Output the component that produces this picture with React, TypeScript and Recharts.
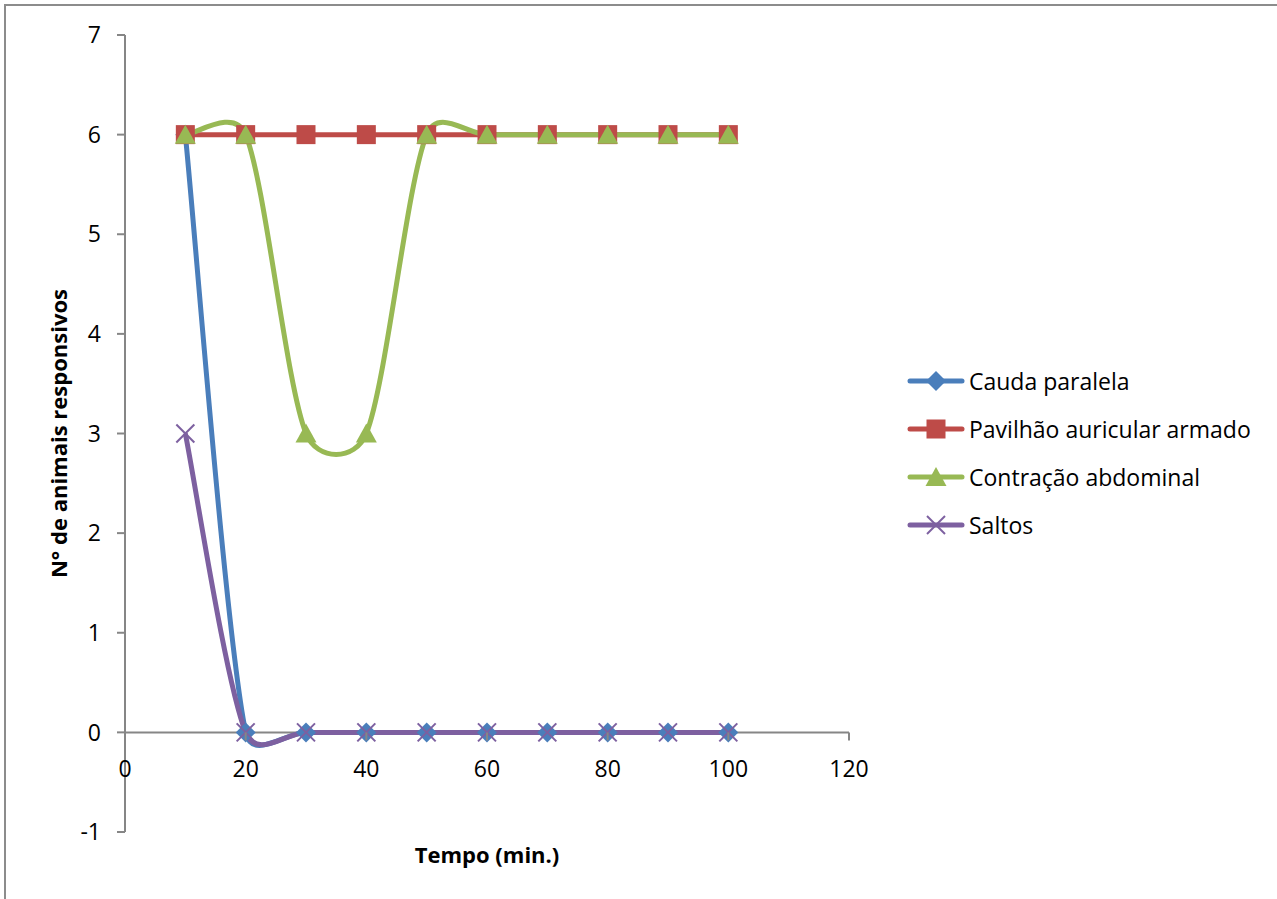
import React from 'react';
import { LineChart, Line, XAxis, YAxis, ReferenceLine } from 'recharts';

// Time points (min.) and number of responsive animals per sign
const tempo = [10, 20, 30, 40, 50, 60, 70, 80, 90, 100];
const caudaParalela = [6, 0, 0, 0, 0, 0, 0, 0, 0, 0];
const pavilhaoAuricular = [6, 6, 6, 6, 6, 6, 6, 6, 6, 6];
const contracaoAbdominal = [6, 6, 3, 3, 6, 6, 6, 6, 6, 6];
const saltos = [3, 0, 0, 0, 0, 0, 0, 0, 0, 0];

const xTicks = [0, 20, 40, 60, 80, 100, 120];
const yTicks = [-1, 0, 1, 2, 3, 4, 5, 6, 7];

const W = 1277;
const H = 899;
const X_AXIS_H = 30;
const MARGIN = { top: 35, right: 428, bottom: 67 - X_AXIS_H, left: 0 };
const Y_MIN = -1;
const Y_MAX = 7;
const PLOT_H = H - MARGIN.top - MARGIN.bottom - X_AXIS_H;
// pixel row of the value 0, where the horizontal axis crosses
const ZERO_Y = MARGIN.top + (PLOT_H * (Y_MAX - 0)) / (Y_MAX - Y_MIN);

const FONT = '"Open Sans", sans-serif';
const AXIS = '#868686';

const rows = tempo.map((t, i) => ({
  tempo: t,
  cauda: caudaParalela[i],
  pavilhao: pavilhaoAuricular[i],
  contracao: contracaoAbdominal[i],
  saltos: saltos[i],
}));

// Smoothed line in the spreadsheet style: cubic Bezier segments whose
// control points follow the neighbours, capped to half the segment length.
function excelSmooth(context: any) {
  let pts: number[][] = [];
  const ctrl = (p: number[], a: number[], b: number[], seg: number, sign: number) => {
    const dx = b[0] - a[0];
    const dy = b[1] - a[1];
    const len = Math.hypot(dx, dy);
    if (!len) return p;
    const d = Math.min(len / 6, seg / 2);
    return [p[0] + (sign * dx * d) / len, p[1] + (sign * dy * d) / len];
  };
  return {
    areaStart() {},
    areaEnd() {},
    lineStart() {
      pts = [];
    },
    point(x: number, y: number) {
      pts.push([+x, +y]);
    },
    lineEnd() {
      const n = pts.length;
      if (!n) return;
      context.moveTo(pts[0][0], pts[0][1]);
      for (let i = 0; i < n - 1; i++) {
        const p0 = pts[Math.max(i - 1, 0)];
        const p1 = pts[i];
        const p2 = pts[i + 1];
        const p3 = pts[Math.min(i + 2, n - 1)];
        const seg = Math.hypot(p2[0] - p1[0], p2[1] - p1[1]);
        const c1 = ctrl(p1, p0, p2, seg, 1);
        const c2 = ctrl(p2, p1, p3, seg, -1);
        context.bezierCurveTo(c1[0], c1[1], c2[0], c2[1], p2[0], p2[1]);
      }
    },
  };
}

type MarkerKind = 'diamond' | 'square' | 'triangle' | 'cross';

const Marker = ({ kind, cx, cy, color }: { kind: MarkerKind; cx: number; cy: number; color: string }) => {
  if (kind === 'diamond') {
    return <polygon points={`${cx},${cy - 10} ${cx + 10},${cy} ${cx},${cy + 10} ${cx - 10},${cy}`} fill={color} />;
  }
  if (kind === 'square') {
    return <rect x={cx - 9.5} y={cy - 9.5} width={19} height={19} fill={color} />;
  }
  if (kind === 'triangle') {
    return <polygon points={`${cx},${cy - 10} ${cx + 10.5},${cy + 9} ${cx - 10.5},${cy + 9}`} fill={color} />;
  }
  return (
    <g stroke={color} strokeWidth={2}>
      <line x1={cx - 9} y1={cy - 9} x2={cx + 9} y2={cy + 9} />
      <line x1={cx - 9} y1={cy + 9} x2={cx + 9} y2={cy - 9} />
    </g>
  );
};

const series = [
  { key: 'cauda', name: 'Cauda paralela', color: '#4A7EBB', marker: 'diamond' as MarkerKind },
  { key: 'pavilhao', name: 'Pavilhão auricular armado', color: '#BE4B48', marker: 'square' as MarkerKind },
  { key: 'contracao', name: 'Contração abdominal', color: '#98B954', marker: 'triangle' as MarkerKind },
  { key: 'saltos', name: 'Saltos', color: '#7D60A0', marker: 'cross' as MarkerKind },
];

// x tick drawn on the zero line instead of the bottom of the plot
const XTick = (props: any) => {
  const { x, payload } = props;
  return (
    <g>
      <line x1={x} y1={ZERO_Y} x2={x} y2={ZERO_Y + 8} stroke={AXIS} strokeWidth={2} />
      <text x={x} y={ZERO_Y + 36} textAnchor="middle" dominantBaseline="central" fontSize={23} fontFamily={FONT} fill="#000">
        {payload.value}
      </text>
    </g>
  );
};

const LegendBox = () => (
  <svg width={380} height={200} style={{ position: 'absolute', left: 900, top: 355 }}>
    {series.map((s, i) => {
      const cy = 26 + i * 48;
      return (
        <g key={s.key}>
          <line x1={10} y1={cy} x2={62} y2={cy} stroke={s.color} strokeWidth={5} strokeLinecap="round" />
          <Marker kind={s.marker} cx={36} cy={cy} color={s.color} />
          <text x={69} y={cy} dominantBaseline="central" fontSize={23} fontFamily={FONT} fill="#000">
            {s.name}
          </text>
        </g>
      );
    })}
  </svg>
);

export default function App() {
  return (
    <div style={{ position: 'absolute', left: 0, top: 0, width: W, height: H, overflow: 'hidden', background: '#fff' }}>
      <div
        style={{
          position: 'absolute',
          left: 4,
          top: 4,
          width: W + 20,
          height: H + 20,
          borderTop: '2px solid #8c8c8c',
          borderLeft: '2px solid #8c8c8c',
        }}
      />
      <div style={{ position: 'absolute', left: 0, top: 0 }}>
        <LineChart width={W} height={H} data={rows} margin={MARGIN}>
          <XAxis
            dataKey="tempo"
            type="number"
            domain={[0, 120]}
            ticks={xTicks}
            interval={0}
            height={X_AXIS_H}
            axisLine={false}
            tickLine={false}
            tick={<XTick />}
            label={{
              value: 'Tempo (min.)',
              position: 'insideBottom',
              offset: -1,
              style: { fontFamily: FONT, fontSize: 22, fontWeight: 700, fill: '#000' },
            }}
          />
          <YAxis
            type="number"
            domain={[Y_MIN, Y_MAX]}
            ticks={yTicks}
            interval={0}
            width={125}
            tickSize={8}
            tickMargin={16}
            axisLine={{ stroke: AXIS, strokeWidth: 2 }}
            tickLine={{ stroke: AXIS, strokeWidth: 2 }}
            tick={{ fill: '#000', fontSize: 23, fontFamily: FONT }}
            label={{
              value: 'N° de animais responsivos',
              angle: -90,
              position: 'center',
              dx: -3,
              style: { fontFamily: FONT, fontSize: 22, fontWeight: 700, fill: '#000', textAnchor: 'middle' },
            }}
          />
          <ReferenceLine y={0} stroke={AXIS} strokeWidth={2} />
          {series.map((s) => (
            <Line
              key={s.key}
              dataKey={s.key}
              name={s.name}
              type={excelSmooth as any}
              stroke={s.color}
              strokeWidth={5}
              isAnimationActive={false}
              dot={(p: any) => <Marker key={`${s.key}-${p.index}`} kind={s.marker} cx={p.cx} cy={p.cy} color={s.color} />}
              activeDot={false}
            />
          ))}
        </LineChart>
      </div>
      <LegendBox />
    </div>
  );
}
